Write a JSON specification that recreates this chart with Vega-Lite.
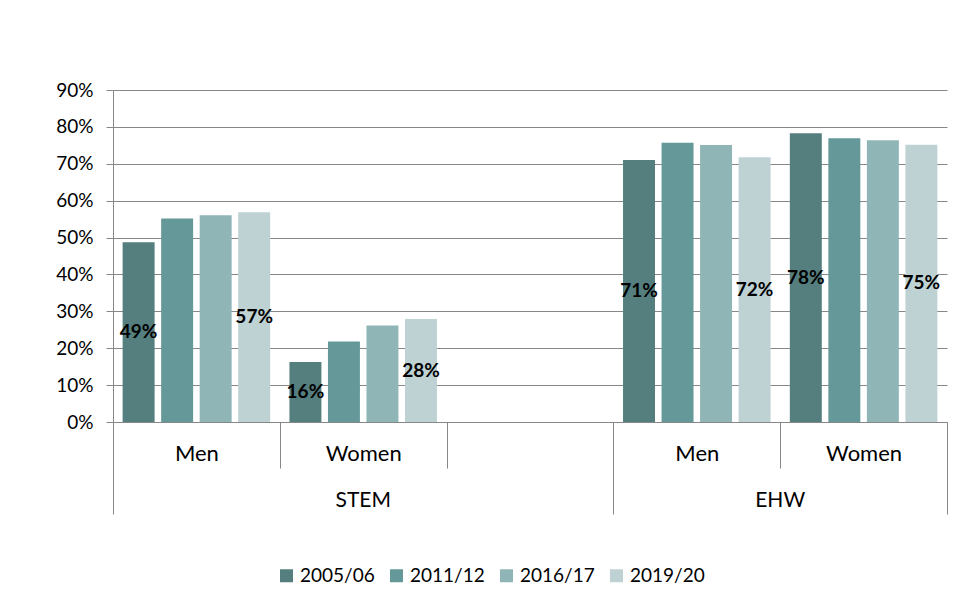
{
  "$schema": "https://vega.github.io/schema/vega-lite/v6.json",
  "autosize": {"type": "none"},
  "padding": {"left": 113, "top": 90, "right": 10, "bottom": 182},
  "width": 834,
  "height": 332,
  "background": "white",
  "config": {"font": "Lato", "view": {"stroke": null}},
  "data": {
    "values": [
      {"cat": "STEM|Men", "year": "2005/06", "value": 0.4875},
      {"cat": "STEM|Men", "year": "2011/12", "value": 0.5515},
      {"cat": "STEM|Men", "year": "2016/17", "value": 0.5607},
      {"cat": "STEM|Men", "year": "2019/20", "value": 0.5688},
      {"cat": "STEM|Women", "year": "2005/06", "value": 0.1625},
      {"cat": "STEM|Women", "year": "2011/12", "value": 0.2183},
      {"cat": "STEM|Women", "year": "2016/17", "value": 0.2616},
      {"cat": "STEM|Women", "year": "2019/20", "value": 0.279},
      {"cat": "EHW|Men", "year": "2005/06", "value": 0.7104},
      {"cat": "EHW|Men", "year": "2011/12", "value": 0.7573},
      {"cat": "EHW|Men", "year": "2016/17", "value": 0.751},
      {"cat": "EHW|Men", "year": "2019/20", "value": 0.7177},
      {"cat": "EHW|Women", "year": "2005/06", "value": 0.7827},
      {"cat": "EHW|Women", "year": "2011/12", "value": 0.7692},
      {"cat": "EHW|Women", "year": "2016/17", "value": 0.7638},
      {"cat": "EHW|Women", "year": "2019/20", "value": 0.7519}
    ]
  },
  "resolve": {"axis": {"x": "independent"}, "scale": {"y": "independent"}},
  "layer": [
    {
      "mark": {"type": "bar"},
      "encoding": {
        "x": {
          "field": "cat", "type": "nominal",
          "scale": {"domain": ["STEM|Men", "STEM|Women", "STEM|Blank", "EHW|Men", "EHW|Women"], "paddingInner": 0, "paddingOuter": 0},
          "axis": {
            "orient": "bottom", "title": null, "grid": false,
            "tickBand": "extent",
            "tickSize": {"condition": {"test": "datum.extra", "value": 92}, "value": 46},
            "tickColor": "#878787", "domainColor": "#878787",
            "labelExpr": "datum.value == 'STEM|Blank' ? '' : split(datum.value, '|')[1]",
            "labelAngle": 0, "labelFontSize": 22, "labelColor": "#000000",
            "labelBaseline": "middle", "labelPadding": -15
          }
        },
        "xOffset": {
          "field": "year", "type": "nominal",
          "scale": {"domain": ["2005/06", "2011/12", "2016/17", "2019/20"], "paddingInner": 0.17, "paddingOuter": 0.25}
        },
        "y": {
          "field": "value", "type": "quantitative",
          "scale": {"domain": [0, 0.9], "nice": false},
          "axis": {
            "title": null, "values": [0, 0.1, 0.2, 0.3, 0.4, 0.5, 0.6, 0.7, 0.8, 0.9],
            "labelOverlap": false,
            "format": ".0%", "grid": true, "gridColor": "#878787",
            "domainColor": "#878787", "tickColor": "#878787", "tickSize": 7,
            "labelPadding": 13, "labelFontSize": 19, "labelColor": "#000000"
          }
        },
        "color": {
          "field": "year", "type": "nominal",
          "scale": {"domain": ["2005/06", "2011/12", "2016/17", "2019/20"], "range": ["#557F7F", "#659999", "#8FB5B6", "#BED2D4"]},
          "legend": {
            "orient": "none", "legendX": 164, "legendY": 476, "direction": "horizontal",
            "title": null, "symbolType": "square", "symbolSize": 169, "symbolStrokeWidth": 0,
            "labelFontSize": 19, "labelColor": "#000000", "columnPadding": 12, "labelOffset": 4
          }
        }
      }
    },
    {
      "transform": [{"filter": "datum.year == '2005/06' || datum.year == '2019/20'"}],
      "mark": {"type": "text", "fontWeight": "bold", "fontSize": 19, "color": "#000000", "baseline": "middle"},
      "encoding": {
        "x": {
          "field": "cat", "type": "nominal",
          "scale": {"domain": ["STEM|Men", "STEM|Women", "STEM|Blank", "EHW|Men", "EHW|Women"], "paddingInner": 0, "paddingOuter": 0},
          "axis": {
            "orient": "bottom", "title": null, "grid": false, "domain": false,
            "values": ["STEM|Blank", "EHW|Women"],
            "bandPosition": 1, "tickExtra": false, "tickSize": 92, "tickColor": "#878787",
            "labelExpr": "datum.value == 'STEM|Blank' ? 'STEM' : 'EHW'",
            "labelOffset": {"condition": {"test": "datum.value == 'STEM|Blank'", "value": -166.8}, "value": -83.4},
            "labelAngle": 0, "labelFontSize": 21, "labelColor": "#000000",
            "labelBaseline": "middle", "labelPadding": -14
          }
        },
        "xOffset": {"field": "year", "type": "nominal"},
        "y": {"field": "value", "type": "quantitative", "scale": {"domain": [0, 1.8], "nice": false}, "axis": null},
        "text": {"field": "value", "type": "quantitative", "format": ".0%"}
      }
    }
  ]
}
